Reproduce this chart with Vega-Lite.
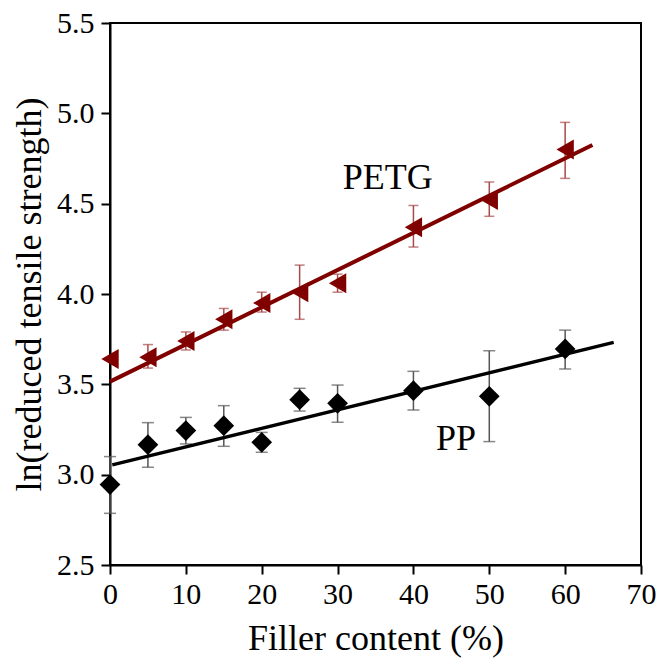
{
  "$schema": "https://vega.github.io/schema/vega-lite/v6.json",
  "autosize": {"type": "none"},
  "width": 531,
  "height": 542,
  "padding": {"left": 110, "top": 23, "right": 16, "bottom": 103},
  "background": "white",
  "config": {
    "view": {"stroke": "black", "strokeWidth": 2},
    "font": "Liberation Serif",
    "axis": {
      "grid": false,
      "domainColor": "black",
      "domainWidth": 2,
      "tickColor": "black",
      "tickWidth": 2,
      "tickSize": 9,
      "labelFont": "Liberation Serif",
      "labelFontSize": 30,
      "labelColor": "black",
      "titleFont": "Liberation Serif",
      "titleFontSize": 36,
      "titleFontWeight": "normal",
      "titleColor": "black"
    }
  },
  "datasets": {
    "points": [
      {"series": "PETG", "x": 0, "y": 3.64, "lo": 3.64, "hi": 3.64},
      {"series": "PETG", "x": 5, "y": 3.65, "lo": 3.59, "hi": 3.72},
      {"series": "PETG", "x": 10, "y": 3.74, "lo": 3.69, "hi": 3.79},
      {"series": "PETG", "x": 15, "y": 3.86, "lo": 3.80, "hi": 3.92},
      {"series": "PETG", "x": 20, "y": 3.95, "lo": 3.90, "hi": 4.01},
      {"series": "PETG", "x": 25, "y": 4.01, "lo": 3.86, "hi": 4.16},
      {"series": "PETG", "x": 30, "y": 4.06, "lo": 4.01, "hi": 4.11},
      {"series": "PETG", "x": 40, "y": 4.37, "lo": 4.26, "hi": 4.49},
      {"series": "PETG", "x": 50, "y": 4.52, "lo": 4.43, "hi": 4.62},
      {"series": "PETG", "x": 60, "y": 4.80, "lo": 4.64, "hi": 4.95},
      {"series": "PP", "x": 0, "y": 2.945, "lo": 2.786, "hi": 3.10},
      {"series": "PP", "x": 5, "y": 3.166, "lo": 3.041, "hi": 3.288},
      {"series": "PP", "x": 10, "y": 3.244, "lo": 3.17, "hi": 3.317},
      {"series": "PP", "x": 15, "y": 3.271, "lo": 3.157, "hi": 3.382},
      {"series": "PP", "x": 20, "y": 3.179, "lo": 3.124, "hi": 3.234},
      {"series": "PP", "x": 25, "y": 3.415, "lo": 3.352, "hi": 3.478},
      {"series": "PP", "x": 30, "y": 3.395, "lo": 3.29, "hi": 3.496},
      {"series": "PP", "x": 40, "y": 3.465, "lo": 3.358, "hi": 3.572},
      {"series": "PP", "x": 50, "y": 3.434, "lo": 3.183, "hi": 3.686},
      {"series": "PP", "x": 60, "y": 3.696, "lo": 3.585, "hi": 3.80}
    ],
    "fits": [
      {"series": "PETG", "x": 0, "y": 3.515},
      {"series": "PETG", "x": 63.6, "y": 4.825},
      {"series": "PP", "x": 0.3, "y": 3.054},
      {"series": "PP", "x": 66.4, "y": 3.732}
    ],
    "labels": [
      {"text": "PETG", "x": 36.6, "y": 4.64},
      {"text": "PP", "x": 45.6, "y": 3.2}
    ]
  },
  "encoding": {
    "x": {
      "type": "quantitative",
      "scale": {"domain": [0, 70], "nice": false, "zero": false},
      "axis": {"values": [0, 10, 20, 30, 40, 50, 60, 70], "title": "Filler content (%)", "labelPadding": 5, "titlePadding": 12, "labelFlush": false}
    },
    "y": {
      "type": "quantitative",
      "scale": {"domain": [2.5, 5.5], "nice": false, "zero": false},
      "axis": {"values": [2.5, 3.0, 3.5, 4.0, 4.5, 5.0, 5.5], "format": ".1f", "title": "ln(reduced tensile strength)", "labelPadding": 7, "titlePadding": 8, "labelFlush": false}
    }
  },
  "layer": [
    {
      "data": {"name": "points"},
      "transform": [{"filter": "datum.series === 'PETG'"}],
      "mark": {"type": "rule", "color": "#A84A4A", "strokeWidth": 1.5},
      "encoding": {"x": {"field": "x"}, "y": {"field": "lo"}, "y2": {"field": "hi"}}
    },
    {
      "data": {"name": "points"},
      "transform": [{"filter": "datum.series === 'PETG' && datum.lo < datum.hi"}, {"fold": ["lo", "hi"], "as": ["end", "v"]}],
      "mark": {"type": "tick", "orient": "horizontal", "color": "#A84A4A", "thickness": 1.5, "size": 10},
      "encoding": {"x": {"field": "x"}, "y": {"field": "v"}}
    },
    {
      "data": {"name": "points"},
      "transform": [{"filter": "datum.series === 'PP'"}],
      "mark": {"type": "rule", "color": "#555555", "strokeWidth": 1.5},
      "encoding": {"x": {"field": "x"}, "y": {"field": "lo"}, "y2": {"field": "hi"}}
    },
    {
      "data": {"name": "points"},
      "transform": [{"filter": "datum.series === 'PP'"}, {"fold": ["lo", "hi"], "as": ["end", "v"]}],
      "mark": {"type": "tick", "orient": "horizontal", "color": "#555555", "thickness": 1.5, "size": 12},
      "encoding": {"x": {"field": "x"}, "y": {"field": "v"}}
    },
    {
      "data": {"name": "fits"},
      "transform": [{"filter": "datum.series === 'PETG'"}],
      "mark": {"type": "line", "color": "#800000", "strokeWidth": 4},
      "encoding": {"x": {"field": "x"}, "y": {"field": "y"}}
    },
    {
      "data": {"name": "fits"},
      "transform": [{"filter": "datum.series === 'PP'"}],
      "mark": {"type": "line", "color": "black", "strokeWidth": 3.5},
      "encoding": {"x": {"field": "x"}, "y": {"field": "y"}}
    },
    {
      "data": {"name": "points"},
      "transform": [{"filter": "datum.series === 'PETG'"}],
      "mark": {"type": "point", "shape": "triangle-left", "filled": true, "color": "#800000", "size": 400, "opacity": 1},
      "encoding": {"x": {"field": "x"}, "y": {"field": "y"}}
    },
    {
      "data": {"name": "points"},
      "transform": [{"filter": "datum.series === 'PP'"}],
      "mark": {"type": "point", "shape": "diamond", "filled": true, "color": "black", "size": 430, "opacity": 1},
      "encoding": {"x": {"field": "x"}, "y": {"field": "y"}}
    },
    {
      "data": {"name": "labels"},
      "mark": {"type": "text", "font": "Liberation Serif", "fontSize": 36, "color": "black", "align": "center", "baseline": "middle"},
      "encoding": {"x": {"field": "x"}, "y": {"field": "y"}, "text": {"field": "text"}}
    }
  ]
}
